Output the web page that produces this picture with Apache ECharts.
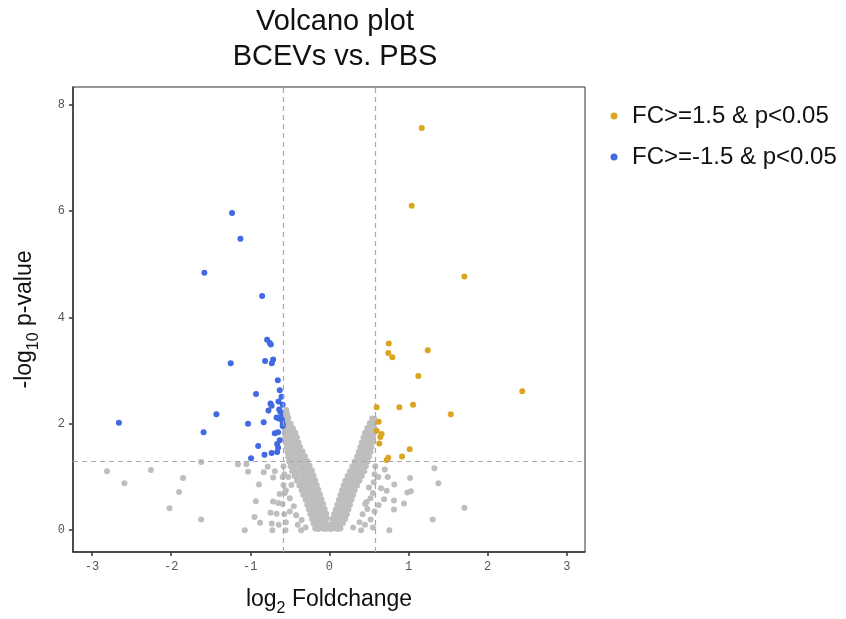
<!DOCTYPE html>
<html>
<head>
<meta charset="utf-8">
<script src="https://cdn.jsdelivr.net/npm/echarts@6/dist/echarts.min.js"></script>
<style>html,body{margin:0;padding:0;background:#fff}#c{width:846px;height:619px}</style>
</head>
<body>
<div id="c"></div>
<script>
// ---- data (log2 fold change, -log10 p-value) ----
const upPoints = [
  [1.167,7.56],[1.04,6.10],[1.706,4.77],[0.75,3.51],[0.744,3.33],[0.795,3.25],[1.243,3.38],
  [1.124,2.90],[2.437,2.61],[0.597,2.31],[0.884,2.31],[1.057,2.36],[1.534,2.18],[0.623,2.04],
  [0.66,1.81],[0.643,1.75],[0.597,1.87],[0.63,1.63],[1.015,1.52],[0.918,1.385],[0.744,1.36],[0.724,1.32]
];
const downPoints = [
  [-1.23,5.96],[-1.124,5.48],[-1.58,4.84],[-0.85,4.40],[-0.787,3.58],[-0.753,3.52],[-0.74,3.49],
  [-0.813,3.18],[-0.711,3.21],[-0.728,3.14],[-1.247,3.14],[-0.652,2.82],[-0.627,2.63],[-0.605,2.51],
  [-0.927,2.56],[-0.744,2.38],[-0.73,2.34],[-0.643,2.42],[-0.59,2.36],[-0.77,2.25],[-0.635,2.27],
  [-0.618,2.22],[-1.428,2.18],[-0.668,2.12],[-0.64,2.10],[-0.61,2.13],[-0.60,2.07],[-0.59,2.00],
  [-0.59,1.96],[-2.66,2.02],[-1.028,2.00],[-0.83,2.03],[-1.59,1.84],[-0.69,1.82],[-0.648,1.84],
  [-0.627,1.69],[-0.66,1.62],[-0.648,1.55],[-0.90,1.58],[-0.66,1.47],[-0.73,1.45],[-0.82,1.42],[-0.99,1.35]
];
const nsScatter = [
  [-1.62,1.28],[-1.155,1.24],[-1.048,1.24],[-2.81,1.11],[-2.255,1.13],[-1.028,1.10],[-0.83,1.09],
  [-0.78,1.19],[-0.69,1.11],[-0.711,0.99],[-0.59,1.0],[-1.85,0.98],[-2.59,0.88],[-0.89,0.86],
  [-1.90,0.72],[-0.627,0.68],[-0.563,0.70],[-0.93,0.545],[-0.711,0.54],[-0.648,0.51],[-0.592,0.49],
  [-2.02,0.41],[-0.947,0.25],[-0.744,0.33],[-0.668,0.31],[-1.62,0.20],[-0.876,0.14],[-0.728,0.125],
  [-0.64,0.10],[-1.07,0.0],[-0.72,0.0],[-0.555,0.0],[-0.357,0.0],[-0.42,0.28],[-0.35,0.19],
  [1.327,1.165],[1.02,0.98],[1.377,0.88],[0.70,1.14],[0.618,1.0],[0.737,1.0],[0.82,0.86],[0.652,0.79],
  [0.724,0.74],[0.985,0.71],[1.03,0.73],[0.69,0.58],[0.816,0.56],[0.943,0.50],[0.623,0.475],
  [0.816,0.39],[1.706,0.42],[1.306,0.20],[0.757,0.0],[0.47,0.53],[0.453,0.49],[0.40,0.0],
  [-0.58,1.2],[-0.57,1.05],[-0.58,0.85],[-0.55,0.75],[-0.5,0.6],[-0.45,0.45],[-0.42,0.28],[-0.4,0.1],
  [-0.3,0.05],[-0.5,0.35],[-0.57,0.3],[-0.55,0.15],[-0.48,0.85],[-0.52,1.0],
  [0.58,1.2],[0.57,1.05],[0.56,0.9],[0.55,0.7],[0.5,0.8],[0.52,0.6],[0.48,0.4],[0.42,0.3],[0.38,0.15],
  [0.45,0.1],[0.52,0.2],[0.57,0.35],[0.3,0.05],[0.55,0.05]
];
const nsBand = [
  [-0.18,0.03],[-0.14,0.02],[-0.1,0.04],[-0.06,0.02],[-0.02,0.03],[0.02,0.02],[0.06,0.04],[0.1,0.02],[0.14,0.03],
  [-0.2,0.12],[-0.16,0.11],[-0.12,0.13],[-0.08,0.11],[-0.04,0.12],[0.02,0.11],[0.06,0.13],[0.1,0.12],[0.14,0.11],[0.17,0.13],
  [-0.22,0.21],[-0.18,0.2],[-0.14,0.22],[-0.1,0.2],[-0.06,0.21],[-0.03,0.22],[0.04,0.21],[0.08,0.2],[0.12,0.22],[0.16,0.2],[0.2,0.21],
  [-0.24,0.3],[-0.2,0.29],[-0.16,0.31],[-0.12,0.29],[-0.08,0.3],[-0.04,0.31],[0.06,0.3],[0.1,0.29],[0.14,0.31],[0.18,0.29],[0.22,0.3],
  [-0.26,0.39],[-0.22,0.38],[-0.18,0.4],[-0.14,0.38],[-0.1,0.39],[-0.06,0.4],[0.08,0.39],[0.12,0.38],[0.16,0.4],[0.2,0.38],[0.24,0.39],
  [-0.28,0.48],[-0.24,0.47],[-0.2,0.49],[-0.16,0.47],[-0.12,0.48],[-0.08,0.49],[0.1,0.48],[0.14,0.47],[0.18,0.49],[0.22,0.47],[0.26,0.48],
  [-0.3,0.57],[-0.26,0.56],[-0.22,0.58],[-0.18,0.56],[-0.14,0.57],[-0.1,0.58],[0.12,0.57],[0.16,0.56],[0.2,0.58],[0.24,0.56],[0.28,0.57],
  [-0.33,0.66],[-0.29,0.65],[-0.25,0.67],[-0.21,0.65],[-0.17,0.66],[-0.12,0.67],[0.14,0.66],[0.18,0.65],[0.22,0.67],[0.26,0.65],[0.3,0.66],
  [-0.35,0.75],[-0.31,0.74],[-0.27,0.76],[-0.23,0.74],[-0.19,0.75],[-0.14,0.76],[0.16,0.75],[0.2,0.74],[0.24,0.76],[0.28,0.74],[0.32,0.75],
  [-0.38,0.84],[-0.34,0.83],[-0.3,0.85],[-0.26,0.83],[-0.21,0.84],[-0.16,0.85],[0.18,0.84],[0.22,0.83],[0.26,0.85],[0.3,0.83],[0.35,0.84],
  [-0.41,0.93],[-0.37,0.92],[-0.32,0.94],[-0.28,0.92],[-0.23,0.93],[-0.18,0.94],[0.2,0.93],[0.24,0.92],[0.29,0.94],[0.33,0.92],[0.38,0.93],
  [-0.44,1.02],[-0.39,1.01],[-0.34,1.03],[-0.29,1.01],[-0.24,1.02],[-0.2,1.03],[0.23,1.02],[0.27,1.01],[0.32,1.03],[0.36,1.01],[0.41,1.02],
  [-0.47,1.11],[-0.42,1.1],[-0.37,1.12],[-0.32,1.1],[-0.27,1.11],[-0.22,1.12],[0.26,1.11],[0.3,1.1],[0.35,1.12],[0.39,1.1],[0.44,1.11],
  [-0.49,1.2],[-0.45,1.19],[-0.4,1.21],[-0.35,1.19],[-0.3,1.2],[-0.25,1.21],[0.29,1.2],[0.33,1.19],[0.38,1.21],[0.42,1.19],[0.46,1.2],
  [-0.51,1.29],[-0.47,1.28],[-0.42,1.3],[-0.37,1.28],[-0.32,1.29],[-0.28,1.3],[0.32,1.29],[0.36,1.28],[0.4,1.3],[0.44,1.28],[0.48,1.29],
  [-0.52,1.38],[-0.48,1.37],[-0.44,1.39],[-0.39,1.37],[-0.35,1.38],[-0.31,1.39],[0.35,1.38],[0.39,1.37],[0.43,1.39],[0.47,1.37],[0.5,1.38],
  [-0.53,1.47],[-0.49,1.46],[-0.45,1.48],[-0.41,1.46],[-0.37,1.47],[-0.34,1.48],[0.37,1.47],[0.41,1.46],[0.45,1.48],[0.49,1.46],[0.52,1.47],
  [-0.54,1.56],[-0.5,1.55],[-0.46,1.57],[-0.42,1.55],[-0.37,1.56],[0.39,1.56],[0.43,1.55],[0.47,1.57],[0.5,1.55],[0.53,1.56],
  [-0.55,1.65],[-0.51,1.64],[-0.47,1.66],[-0.43,1.64],[-0.39,1.65],[0.41,1.65],[0.45,1.64],[0.48,1.66],[0.51,1.64],[0.54,1.65],
  [-0.56,1.74],[-0.52,1.73],[-0.48,1.75],[-0.44,1.73],[-0.41,1.74],[0.43,1.74],[0.47,1.73],[0.5,1.75],[0.53,1.73],[0.55,1.74],
  [-0.565,1.83],[-0.53,1.82],[-0.49,1.84],[-0.45,1.82],[-0.43,1.83],[0.45,1.83],[0.49,1.82],[0.52,1.84],[0.56,1.82],
  [-0.57,1.92],[-0.54,1.91],[-0.5,1.93],[-0.46,1.91],[0.48,1.92],[0.51,1.91],[0.54,1.93],[0.57,1.91],
  [-0.575,2.01],[-0.55,2.0],[-0.52,2.02],[-0.49,2.0],[0.51,2.01],[0.54,2.0],[0.575,2.02],
  [-0.575,2.1],[-0.55,2.09],[-0.52,2.11],[0.54,2.1],[0.57,2.09],
  [-0.56,2.19],[-0.535,2.18],[-0.545,2.26]
];
const xTicks = [-3,-2,-1,0,1,2,3];
const yTicks = [0,2,4,6,8];
const fcCut = [-0.585, 0.585];
const pCut = [1.301];
const legendNames = ['FC>=1.5 & p<0.05', 'FC>=-1.5 & p<0.05'];

// ---- chart ----
const chart = echarts.init(document.getElementById('c'), null, {renderer: 'canvas'});
const axisFont = 'Liberation Mono, DejaVu Sans Mono, monospace';
const mainFont = 'Liberation Sans, Arial, sans-serif';
const richName = {
  a: {fontFamily: mainFont, fontSize: 23, color: '#111', lineHeight: 27, verticalAlign: 'bottom', padding: [0,0,6,0]},
  s: {fontFamily: mainFont, fontSize: 16, color: '#111', lineHeight: 18, verticalAlign: 'bottom'}
};
const option = {
  animation: false,
  backgroundColor: '#fff',
  title: {
    text: 'Volcano plot\nBCEVs vs. PBS',
    left: 330, top: -1, textAlign: 'center',
    textStyle: {fontFamily: mainFont, fontSize: 29, fontWeight: 'normal', color: '#111', lineHeight: 35}
  },
  legend: {
    orient: 'vertical', left: 605.5, top: 98,
    data: legendNames.map(n => ({name: n, icon: 'circle'})),
    itemWidth: 7, itemHeight: 7, itemGap: 15,
    textStyle: {fontFamily: mainFont, fontSize: 24, color: '#111', lineHeight: 26, padding: [0,0,0,9.5]}
  },
  grid: {left: 73, right: 261, top: 87, bottom: 67, show: true, borderColor: '#333', borderWidth: 1,
         containLabel: false, outerBoundsMode: 'none'},
  xAxis: {
    type: 'value', min: -3.24, max: 3.23,
    splitLine: {show: false},
    axisLine: {show: true, onZero: false, lineStyle: {color: '#333', width: 1.5}},
    axisTick: {show: true, length: 4, customValues: xTicks, lineStyle: {color: '#333', width: 1.5}},
    axisLabel: {customValues: xTicks, fontFamily: axisFont, fontSize: 12, color: '#555', margin: 9},
    name: '{a|log}{s|2}{a| Foldchange}', nameLocation: 'middle', nameGap: 38,
    nameTextStyle: {rich: richName}
  },
  yAxis: {
    type: 'value', min: -0.41, max: 8.33,
    splitLine: {show: false},
    axisLine: {show: true, onZero: false, lineStyle: {color: '#333', width: 1.5}},
    axisTick: {show: true, length: 4, customValues: yTicks, lineStyle: {color: '#333', width: 1.5}},
    axisLabel: {customValues: yTicks, fontFamily: axisFont, fontSize: 12, color: '#555', margin: 8},
    name: '{a|-log}{s|10}{a| p-value}', nameLocation: 'middle', nameGap: 31, nameRotate: 90,
    nameTextStyle: {rich: richName}
  },
  series: [
    {
      name: 'ns', type: 'scatter', symbolSize: 6, silent: true,
      data: nsBand.concat(nsScatter),
      itemStyle: {color: '#BEBEBE', opacity: 1},
      markLine: {
        silent: true, symbol: 'none', label: {show: false},
        lineStyle: {color: '#A8A8A8', type: [5,4], width: 1.2},
        data: fcCut.map(v => ({xAxis: v})).concat(pCut.map(v => ({yAxis: v})))
      }
    },
    {name: legendNames[1], type: 'scatter', symbolSize: 6, data: downPoints, itemStyle: {color: '#4169E1', opacity: 1}},
    {name: legendNames[0], type: 'scatter', symbolSize: 6, data: upPoints, itemStyle: {color: '#DAA520', opacity: 1}}
  ]
};
chart.setOption(option);
</script>
</body>
</html>
